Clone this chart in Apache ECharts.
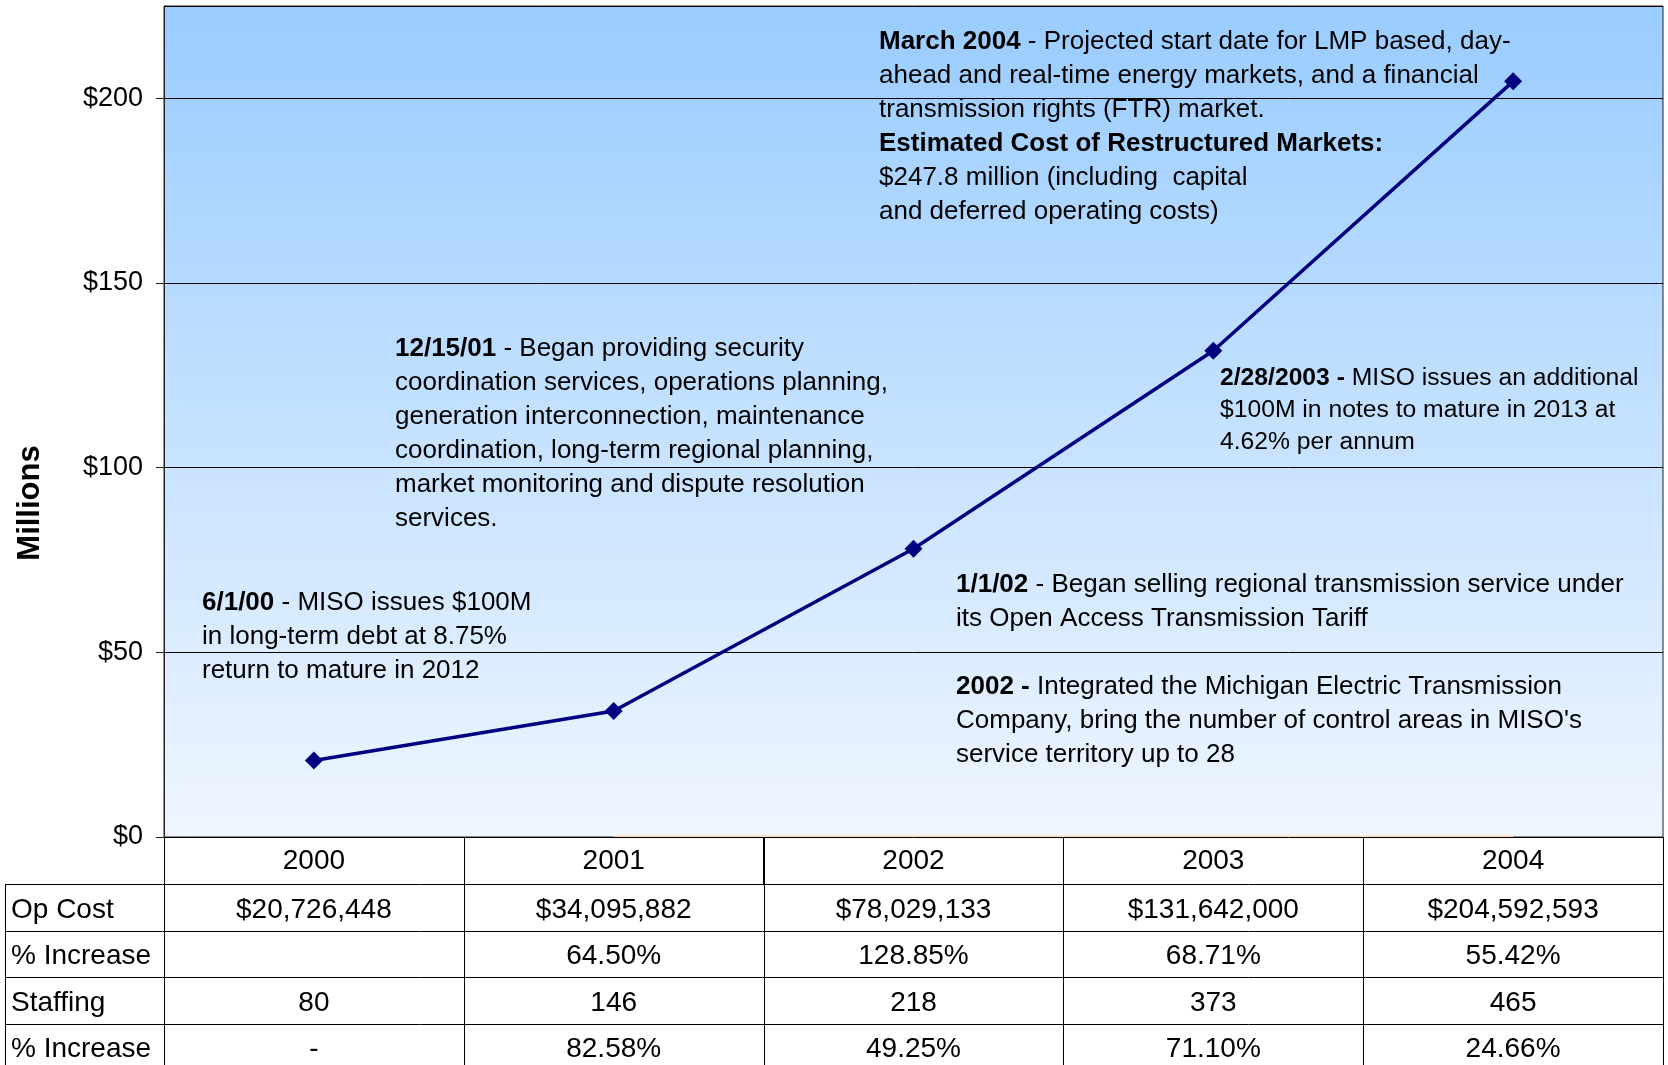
<!DOCTYPE html>
<html>
<head>
<meta charset="utf-8">
<title>MISO Operating Cost</title>
<script src="https://cdn.jsdelivr.net/npm/echarts@6/dist/echarts.min.js"></script>
<style>
  html, body { margin: 0; padding: 0; background: #fff; }
  #chart { width: 1668px; height: 1065px; }
</style>
</head>
<body>
<div id="chart"></div>
<script>
const years = ['2000', '2001', '2002', '2003', '2004'];
const opCost = [20726448, 34095882, 78029133, 131642000, 204592593];
const costIncrease = ['', '64.50%', '128.85%', '68.71%', '55.42%'];
const staffing = [80, 146, 218, 373, 465];
const staffIncrease = ['-', '82.58%', '49.25%', '71.10%', '24.66%'];
const capital = [null, 0, 0, 0, 0];
const rowLabels = ['Op Cost', '% Increase', 'Staffing', '% Increase'];

const FONT = '"Liberation Sans", Arial, Helvetica, sans-serif';

// event notes, {b|..} marks the bold part
const notes = [
  { left: 202, top: 586, size: 26, lh: 34,
    text: '{b|6/1/00} - MISO issues $100M\nin long-term debt at 8.75%\nreturn to mature in 2012' },
  { left: 395, top: 332, size: 26, lh: 34,
    text: '{b|12/15/01} - Began providing security\ncoordination services, operations planning,\ngeneration interconnection, maintenance\ncoordination, long-term regional planning,\nmarket monitoring and dispute resolution\nservices.' },
  { left: 879, top: 25, size: 26, lh: 34,
    text: '{b|March 2004} - Projected start date for LMP based, day-\nahead and real-time energy markets, and a financial\ntransmission rights (FTR) market.\n{b|Estimated Cost of Restructured Markets:}\n$247.8 million (including  capital\nand deferred operating costs)' },
  { left: 1220, top: 362, size: 24.7, lh: 32,
    text: '{b|2/28/2003 -} MISO issues an additional\n$100M in notes to mature in 2013 at\n4.62% per annum' },
  { left: 956, top: 568, size: 26, lh: 34,
    text: '{b|1/1/02} - Began selling regional transmission service under\nits Open Access Transmission Tariff' },
  { left: 956, top: 670, size: 26, lh: 34,
    text: '{b|2002 -} Integrated the Michigan Electric Transmission\nCompany, bring the number of control areas in MISO\'s\nservice territory up to 28' },
];

const chart = echarts.init(document.getElementById('chart'));

const noteGraphics = notes.map((n) => ({
  type: 'text',
  left: n.left,
  top: n.top,
  z: 10,
  style: {
    text: n.text,
    fill: '#000',
    fontFamily: FONT,
    fontSize: n.size,
    lineHeight: n.lh,
    rich: {
      b: { fontFamily: FONT, fontSize: n.size, fontWeight: 'bold', lineHeight: n.lh, fill: '#000' },
    },
  },
}));

// y axis title, sits lower than the axis middle in the original
noteGraphics.push({
  type: 'text',
  x: 30,
  y: 503,
  rotation: Math.PI / 2,
  z: 10,
  style: {
    text: 'Millions',
    fill: '#000',
    fontFamily: FONT,
    fontSize: 31,
    fontWeight: 'bold',
    align: 'center',
    verticalAlign: 'middle',
  },
});

chart.setOption({
  animation: false,
  textStyle: { fontFamily: FONT },
  grid: {
    left: 164,
    right: 5,
    top: 6,
    bottom: 228,
    containLabel: false,
    outerBoundsMode: 'none',
    show: true,
    borderColor: '#222',
    borderWidth: 1,
    backgroundColor: new echarts.graphic.LinearGradient(0, 0, 0, 1, [
      { offset: 0, color: '#99ccff' },
      { offset: 1, color: '#eff6ff' },
    ]),
  },
  xAxis: {
    type: 'category',
    data: years,
    boundaryGap: true,
    z: 3,
    axisLine: { lineStyle: { color: '#000', width: 1 } },
    axisTick: { show: true, length: 47, alignWithLabel: false, interval: 0, lineStyle: { color: '#000' } },
    axisLabel: {
      color: '#000',
      fontSize: 28,
      fontFamily: FONT,
      margin: 24,
      verticalAlign: 'middle',
      interval: 0,
    },
    splitLine: { show: false },
  },
  yAxis: {
    type: 'value',
    min: 0,
    max: 225,
    interval: 50,
    axisLine: { show: true, lineStyle: { color: '#222' } },
    axisTick: { show: true, length: 8, lineStyle: { color: '#222' } },
    axisLabel: {
      color: '#000',
      fontSize: 27,
      fontFamily: FONT,
      margin: 21,
      showMaxLabel: false,
      formatter: (v) => (v > 200 ? '' : '$' + v),
    },
    splitLine: { show: true, lineStyle: { color: '#000', width: 1 } },
  },
  series: [
    {
      name: 'Capital',
      type: 'line',
      data: capital,
      symbol: 'none',
      z: 1,
      lineStyle: { color: '#f9d9b9', width: 3 },
      silent: true,
    },
    {
      name: 'Op Cost',
      type: 'line',
      data: opCost.map((v) => v / 1e6),
      symbol: 'diamond',
      symbolSize: 18,
      z: 5,
      itemStyle: { color: '#000080' },
      lineStyle: { color: '#000080', width: 3.5 },
    },
  ],
  graphic: noteGraphics,
});

// data table under the plot, aligned to the category axis
function buildTable() {
  const xs = years.map((y, i) => chart.convertToPixel({ xAxisIndex: 0 }, i));
  const band = xs.length > 1 ? xs[1] - xs[0] : 300;
  const axisY = chart.convertToPixel({ yAxisIndex: 0 }, 0);
  const plotLeft = xs[0] - band / 2;
  const plotRight = xs[xs.length - 1] + band / 2;
  const tableLeft = 5;
  const bottom = 1065;
  const headerH = 47;
  const rowH = 46.5;
  const rows = [
    opCost.map((v) => '$' + v.toLocaleString('en-US')),
    costIncrease,
    staffing.map(String),
    staffIncrease,
  ];

  const els = [];
  const line = (x1, y1, x2, y2) => els.push({
    type: 'line',
    z: 4,
    shape: { x1, y1, x2, y2 },
    style: { stroke: '#000', lineWidth: 1 },
  });
  const text = (x, y, t, align) => els.push({
    type: 'text',
    x, y, z: 4,
    style: {
      text: t, fill: '#000', fontFamily: FONT, fontSize: 28,
      align, verticalAlign: 'middle',
    },
  });

  const firstRowTop = axisY + headerH;
  for (let r = 0; r < rows.length; r++) {
    const top = firstRowTop + r * rowH;
    line(tableLeft, Math.round(top) + 0.5, plotRight, Math.round(top) + 0.5);
    const cy = top + rowH / 2 + 3;
    text(tableLeft + 6, cy, rowLabels[r], 'left');
    rows[r].forEach((t, i) => { if (t) text(xs[i], cy, t, 'center'); });
  }
  line(tableLeft + 0.5, firstRowTop, tableLeft + 0.5, bottom);
  for (let i = 0; i <= xs.length; i++) {
    const x = Math.round(plotLeft + i * band) + 0.5;
    line(x, axisY, x, bottom);
  }

  chart.setOption({ graphic: noteGraphics.concat(els) }, { replaceMerge: ['graphic'] });
}

buildTable();
</script>
</body>
</html>
